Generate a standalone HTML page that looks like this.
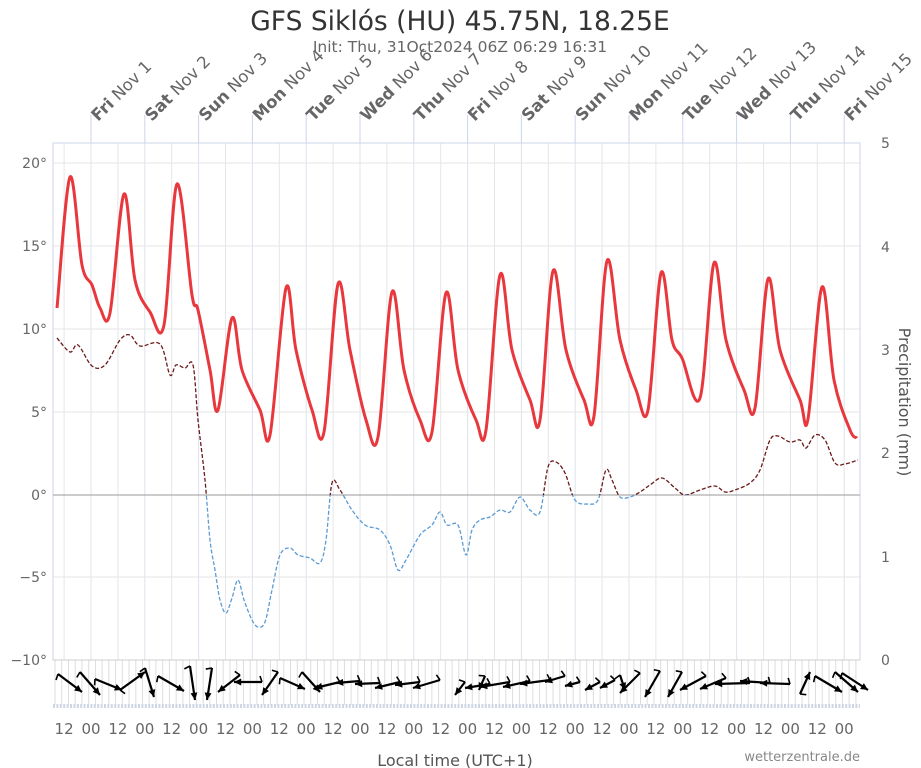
<!DOCTYPE html>
<html><head><meta charset="utf-8"><style>
html,body{margin:0;padding:0;background:#fff;}
svg{display:block;font-family:"DejaVu Sans","Liberation Sans",sans-serif;}
</style></head><body>
<svg id="s" width="921" height="768" viewBox="0 0 921 768" xmlns="http://www.w3.org/2000/svg">
<rect width="921" height="768" fill="#fff"/>
<text x="460" y="30" font-size="26.5" fill="#333" text-anchor="middle">GFS Siklós (HU) 45.75N, 18.25E</text>
<text x="460" y="52" font-size="15.5" fill="#666" text-anchor="middle">Init: Thu, 31Oct2024 06Z 06:29 16:31</text>
<g id="grid"></g>
<g id="labels" font-size="14" fill="#666"></g>
<defs>
<clipPath id="above"><rect x="0" y="0" width="921" height="495"/></clipPath>
<clipPath id="below"><rect x="0" y="495" width="921" height="300"/></clipPath>
</defs>
<line x1="53" y1="495" x2="860" y2="495" stroke="#999" stroke-width="1"/>
<g id="dew"></g>
<path id="temp" fill="none" stroke="#e8383d" stroke-width="3" stroke-linejoin="round"/>
<g id="wind" stroke="#000" stroke-width="2.2" fill="#000"></g>
<text x="455" y="766" font-size="16" fill="#555" text-anchor="middle">Local time (UTC+1)</text>
<text x="860" y="761" font-size="13" fill="#888" text-anchor="end">wetterzentrale.de</text>
<text transform="translate(899,402) rotate(90)" font-size="16" fill="#555" text-anchor="middle">Precipitation (mm)</text>
</svg>
<script>
const NS="http://www.w3.org/2000/svg";
function el(p,t,a,txt){const e=document.createElementNS(NS,t);for(const k in a)e.setAttribute(k,a[k]);if(txt!=null)e.textContent=txt;p.appendChild(e);return e;}
const g=document.getElementById('grid'),L=document.getElementById('labels');
const x0=91,d=53.8;
[163,246,329,412,577].forEach(y=>el(g,'line',{x1:53,y1:y,x2:860,y2:y,stroke:'#e6e6e6'}));
for(let x=55;x<860;x+=6.73)el(g,'line',{x1:x.toFixed(1),y1:660,x2:x.toFixed(1),y2:705,stroke:'#ddd'});
el(g,'line',{x1:53,y1:706,x2:860,y2:706,stroke:'#cfd6e3','stroke-width':4,'stroke-dasharray':'2 1.4'});
for(let i=-1;i<15;i++){const xm=x0+i*d,xn=xm-d/2;
 if(xn>53)el(g,'line',{x1:xn,y1:143,x2:xn,y2:660,stroke:'#e6e6e6'});
 if(xm>53&&xm<860)el(g,'line',{x1:xm,y1:143,x2:xm,y2:660,stroke:'#dde3ee'});}
el(g,'rect',{x:53,y:143,width:807,height:517,fill:'none',stroke:'#ccd6eb'});
el(g,'line',{x1:53,y1:660,x2:860,y2:660,stroke:'#ccc'});
const days=[['Fri','Nov 1'],['Sat','Nov 2'],['Sun','Nov 3'],['Mon','Nov 4'],['Tue','Nov 5'],['Wed','Nov 6'],['Thu','Nov 7'],['Fri','Nov 8'],['Sat','Nov 9'],['Sun','Nov 10'],['Mon','Nov 11'],['Tue','Nov 12'],['Wed','Nov 13'],['Thu','Nov 14'],['Fri','Nov 15']];
days.forEach((dd,i)=>{const x=x0+i*d;el(g,'line',{x1:x,y1:115,x2:x,y2:143,stroke:'#ccd6eb'});
 const t=el(L,'text',{transform:`translate(${x+7},122) rotate(-45)`,'font-size':16.5});
 el(t,'tspan',{'font-weight':'bold'},dd[0]);el(t,'tspan',{},' '+dd[1]);});
[[163,'20°'],[246,'15°'],[329,'10°'],[412,'5°'],[495,'0°'],[577,'−5°'],[660,'−10°']].forEach(a=>el(L,'text',{x:47,y:a[0]+5,'text-anchor':'end'},a[1]));
[[143,'5'],[247,'4'],[350,'3'],[453,'2'],[557,'1'],[660,'0']].forEach(a=>el(L,'text',{x:881,y:a[0]+5},a[1]));
for(let i=0;i<15;i++){const xm=x0+i*d;
 el(L,'text',{x:xm-d/2,y:734,'text-anchor':'middle','font-size':15},'12');
 el(L,'text',{x:xm,y:734,'text-anchor':'middle','font-size':15},'00');}
function smooth(p){let s=`M${p[0][0]},${p[0][1]}`;for(let i=0;i<p.length-1;i++){const a=p[i-1]||p[i],b=p[i],c=p[i+1],e=p[i+2]||c;
 s+=` C${b[0]+(c[0]-a[0])/6},${b[1]+(c[1]-a[1])/6} ${c[0]-(e[0]-b[0])/6},${c[1]-(e[1]-b[1])/6} ${c[0]},${c[1]}`;}return s;}
const T=[[57,308],[70,177],[82,265],[92,285],[100,308],[110,313],[124,194],[135,280],[150,312],[164,325],[177,184],[192,295],[198,310],[210,370],[218,410],[232,318],[242,370],[260,410],[270,435],[286,288],[296,350],[312,410],[324,432],[338,284],[350,350],[366,420],[378,437],[392,292],[404,370],[420,420],[432,432],[446,293],[458,370],[476,420],[486,430],[500,275],[512,350],[530,400],[540,420],[553,271],[566,350],[584,400],[594,416],[607,261],[620,340],[636,390],[648,410],[661,273],[672,340],[682,358],[700,398],[714,263],[726,340],[744,390],[755,408],[768,279],[780,350],[800,400],[808,419],[822,287],[834,380],[850,430],[857,438]];
document.getElementById('temp').setAttribute('d',smooth(T));
const D=[[57,338],[70,352],[78,345],[92,366],[105,365],[120,340],[130,335],[140,346],[160,344],[170,375],[176,365],[185,368],[193,365],[198,420],[205,480],[210,540],[215,570],[220,600],[226,613],[232,598],[238,580],[244,600],[252,620],[258,627],[265,622],[272,590],[280,555],[290,548],[298,555],[310,558],[320,563],[326,540],[332,483],[340,490],[352,510],[365,525],[380,530],[390,545],[398,570],[406,560],[420,535],[432,525],[440,512],[447,525],[458,525],[466,555],[472,530],[480,520],[490,517],[500,510],[510,512],[520,497],[530,510],[540,512],[548,467],[556,462],[565,473],[575,500],[588,504],[598,500],[606,470],[612,480],[620,497],[630,497],[640,492],[650,485],[662,478],[675,488],[685,495],[700,490],[715,486],[725,492],[735,490],[750,483],[760,470],[770,440],[778,436],[790,442],[800,440],[806,448],[815,435],[825,440],[835,463],[845,464],[858,460]];
const dg=document.getElementById('dew'),ds=smooth(D);
el(dg,'path',{d:ds,fill:'none',stroke:'#6b1a1a','stroke-width':1.3,'stroke-dasharray':'4 2','clip-path':'url(#above)'});
el(dg,'path',{d:ds,fill:'none',stroke:'#5b9bd5','stroke-width':1.3,'stroke-dasharray':'4 2','clip-path':'url(#below)'});
const W=[[58,674,82,692],[80,672,100,695],[95,679,122,690],[120,690,145,672],[145,668,154,697],[158,676,184,691],[190,666,195,700],[212,668,207,700],[240,675,218,692],[262,682,234,682],[278,672,262,695],[280,678,305,689],[302,672,320,692],[340,682,315,688],[360,681,336,683],[380,683,355,684],[400,682,375,688],[420,682,395,685],[440,680,413,688],[465,682,455,695],[485,676,479,690],[490,684,465,688],[510,682,480,687],[530,681,503,687],[550,680,520,684],[565,676,545,682],[580,682,565,686],[600,682,585,690],[615,680,600,688],[620,675,625,690],[640,673,620,693],[660,671,645,697],[682,672,668,697],[706,676,680,690],[726,678,700,689],[750,683,715,684],[770,683,740,681],[790,684,760,683],[800,694,810,672],[815,676,842,692],[835,672,858,692],[842,673,868,690]];
const wg=document.getElementById('wind');
W.forEach(w=>{const[x1,y1,x2,y2]=w;el(wg,'line',{x1,y1,x2,y2});
 const a=Math.atan2(y2-y1,x2-x1),h=8,s=0.45;
 el(wg,'polygon',{points:`${x2},${y2} ${x2-h*Math.cos(a-s)},${y2-h*Math.sin(a-s)} ${x2-h*Math.cos(a+s)},${y2-h*Math.sin(a+s)}`,stroke:'none'});
 const b=a+Math.PI/2;el(wg,'line',{x1,y1,x2:x1+6*Math.cos(b)+2*Math.cos(a),y2:y1+6*Math.sin(b)+2*Math.sin(a),'stroke-width':1.6});});
</script>
</body></html>
